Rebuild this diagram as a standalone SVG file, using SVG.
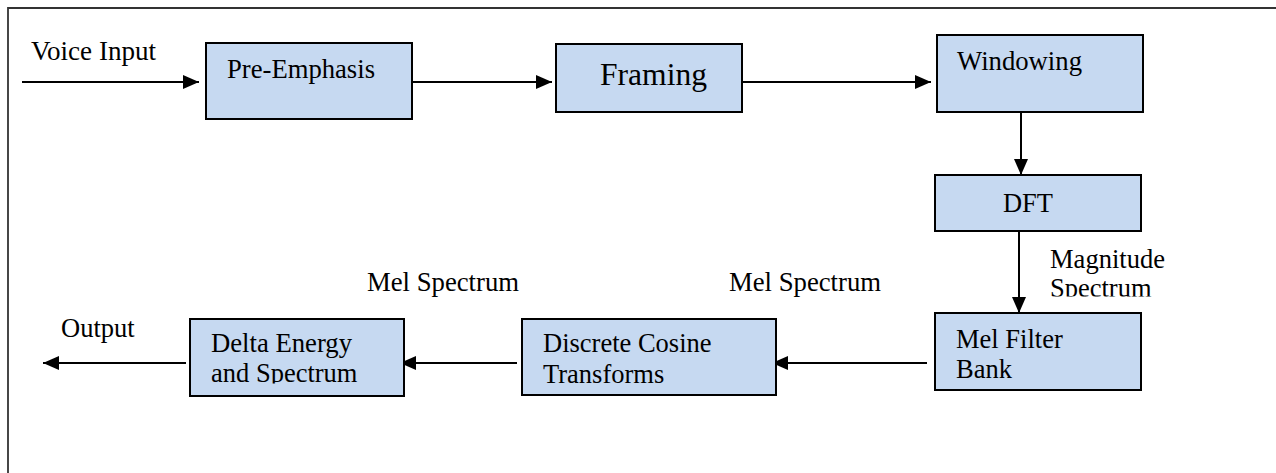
<svg xmlns="http://www.w3.org/2000/svg" width="1276" height="473" viewBox="0 0 1276 473">
<style>
.box{fill:#C6D9F1;stroke:#000;stroke-width:2}
.t{font-family:"Liberation Serif","Times New Roman",serif;font-size:26.5px;fill:#000}
.c{stroke:#000;stroke-width:2;fill:none;marker-end:url(#ah)}
</style>
<defs>
<marker id="ah" viewBox="0 0 16 14" markerWidth="16" markerHeight="14" markerUnits="userSpaceOnUse" refX="16" refY="7" orient="auto">
<path d="M0,0 L16,7 L0,14 z" fill="#000"/>
</marker>
<clipPath id="clipMag"><rect x="1000" y="240" width="250" height="56.5"/></clipPath>
<clipPath id="clipDelta"><rect x="190" y="319" width="214" height="64.5"/></clipPath>
</defs>
<rect width="1276" height="473" fill="#fff"/>
<path d="M8,473 L8,8 L1276,8" fill="none" stroke="#333" stroke-width="1.8"/>
<g id="connectors">
<line class="c" x1="22" y1="82" x2="199" y2="82"/>
<line class="c" x1="412" y1="82" x2="552" y2="82"/>
<line class="c" x1="742" y1="82" x2="931" y2="82"/>
<line class="c" x1="1021" y1="112" x2="1021" y2="175"/>
<line class="c" x1="1019" y1="231" x2="1019" y2="313"/>
<line class="c" x1="927" y1="363" x2="772" y2="363"/>
<line class="c" x1="517" y1="363" x2="400" y2="363"/>
<line class="c" x1="186" y1="363" x2="43" y2="363"/>
</g>
<g id="labels">
<text class="t" x="31" y="60" textLength="125" lengthAdjust="spacingAndGlyphs">Voice Input</text>
<text class="t" x="1050" y="268" textLength="115" lengthAdjust="spacingAndGlyphs">Magnitude</text>
<text class="t" x="1050" y="297" clip-path="url(#clipMag)">Spectrum</text>
<text class="t" x="729" y="291" textLength="152" lengthAdjust="spacingAndGlyphs">Mel Spectrum</text>
<text class="t" x="367" y="291" textLength="152" lengthAdjust="spacingAndGlyphs">Mel Spectrum</text>
<text class="t" x="61" y="337">Output</text>
</g>
<g id="pre-emphasis">
<rect class="box" x="206" y="43" width="206" height="76"/>
<text class="t" x="227" y="78" textLength="148" lengthAdjust="spacingAndGlyphs">Pre-Emphasis</text>
</g>
<g id="framing">
<rect class="box" x="556" y="44" width="186" height="68"/>
<text class="t" x="600" y="85" style="font-size:32px" textLength="107" lengthAdjust="spacingAndGlyphs">Framing</text>
</g>
<g id="windowing">
<rect class="box" x="937" y="35" width="206" height="77"/>
<text class="t" x="957" y="70" textLength="125" lengthAdjust="spacingAndGlyphs">Windowing</text>
</g>
<g id="dft">
<rect class="box" x="935" y="175" width="206" height="56"/>
<text class="t" x="1003" y="212" textLength="50" lengthAdjust="spacingAndGlyphs">DFT</text>
</g>
<g id="mel-filter-bank">
<rect class="box" x="935" y="313" width="206" height="77"/>
<text class="t" x="956" y="348">Mel Filter</text>
<text class="t" x="956" y="378">Bank</text>
</g>
<g id="dct">
<rect class="box" x="522" y="319" width="254" height="76"/>
<text class="t" x="543" y="352">Discrete Cosine</text>
<text class="t" x="543" y="383">Transforms</text>
</g>
<g id="delta">
<rect class="box" x="190" y="319" width="214" height="77"/>
<text class="t" x="211" y="352" textLength="141" lengthAdjust="spacingAndGlyphs">Delta Energy</text>
<text class="t" x="211" y="382" clip-path="url(#clipDelta)">and Spectrum</text>
</g>
</svg>
